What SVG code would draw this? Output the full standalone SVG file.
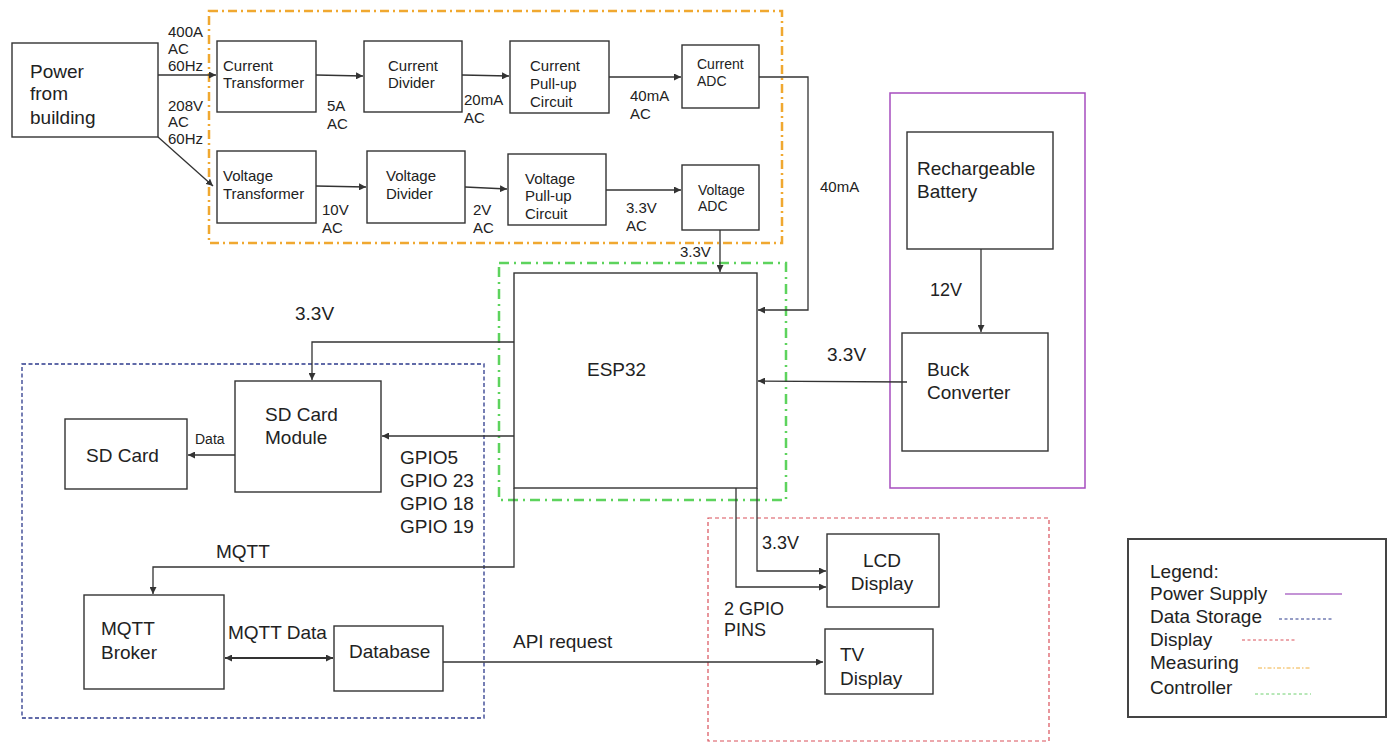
<svg xmlns="http://www.w3.org/2000/svg" width="1388" height="742" viewBox="0 0 1388 742">
<defs>
<style>
text{font-family:"Liberation Sans",Arial,sans-serif;fill:#222;}
.t19{font-size:19px;}
.t18{font-size:18px;}
.t15{font-size:15px;}
.t14{font-size:14px;}
.box{fill:#fff;stroke:#333;stroke-width:1.4;}
.wire{fill:none;stroke:#333;stroke-width:1.3;}
.grp{fill:none;}
</style>
<marker id="ah" viewBox="0 0 10 10" refX="10" refY="5" markerWidth="7" markerHeight="7" markerUnits="userSpaceOnUse" orient="auto">
<path d="M0,0 L10,5 L0,10 z" fill="#333"/>
</marker>
<marker id="ahs" viewBox="0 0 10 10" refX="0" refY="5" markerWidth="7" markerHeight="7" markerUnits="userSpaceOnUse" orient="auto">
<path d="M10,0 L0,5 L10,10 z" fill="#333"/>
</marker>
</defs>
<rect width="1388" height="742" fill="#fff"/>

<!-- group frames -->
<g id="groups">
<rect x="209" y="11" width="573" height="232" class="grp" stroke="#f0a830" stroke-width="2.5" stroke-dasharray="9 4 2 4"/>
<rect x="499" y="263" width="287" height="237" class="grp" stroke="#5dd35d" stroke-width="2.5" stroke-dasharray="10 5 2 5"/>
<rect x="22" y="364" width="462" height="354" class="grp" stroke="#2d3a8c" stroke-width="1.3" stroke-dasharray="4 2.5"/>
<rect x="708" y="518" width="341" height="223" class="grp" stroke="#d9505a" stroke-width="1.2" stroke-dasharray="4 3"/>
<rect x="890" y="93" width="195" height="395" class="grp" stroke="#a64dbf" stroke-width="1.5"/>
</g>

<g id="power-building">
<rect x="12" y="43" width="146" height="94" class="box"/>
<text class="t19" x="30" y="78">Power</text>
<text class="t19" x="30" y="100">from</text>
<text class="t19" x="30" y="124">building</text>
</g>

<g id="current-transformer">
<rect x="217" y="41" width="99" height="71" class="box"/>
<text class="t15" x="223" y="71">Current</text>
<text class="t15" x="223" y="88">Transformer</text>
</g>
<g id="current-divider">
<rect x="364" y="41" width="98" height="71" class="box"/>
<text class="t15" x="388" y="71">Current</text>
<text class="t15" x="388" y="88">Divider</text>
</g>
<g id="current-pullup">
<rect x="510" y="41" width="99" height="72" class="box"/>
<text class="t15" x="530" y="71">Current</text>
<text class="t15" x="530" y="89">Pull-up</text>
<text class="t15" x="530" y="107">Circuit</text>
</g>
<g id="current-adc">
<rect x="682" y="45" width="77" height="63" class="box"/>
<text class="t14" x="697" y="69">Current</text>
<text class="t14" x="697" y="86">ADC</text>
</g>

<g id="voltage-transformer">
<rect x="217" y="151" width="99" height="72" class="box"/>
<text class="t15" x="223" y="181">Voltage</text>
<text class="t15" x="223" y="199">Transformer</text>
</g>
<g id="voltage-divider">
<rect x="367" y="151" width="98" height="72" class="box"/>
<text class="t15" x="386" y="181">Voltage</text>
<text class="t15" x="386" y="199">Divider</text>
</g>
<g id="voltage-pullup">
<rect x="508" y="154" width="98" height="71" class="box"/>
<text class="t15" x="525" y="184">Voltage</text>
<text class="t15" x="525" y="201">Pull-up</text>
<text class="t15" x="525" y="219">Circuit</text>
</g>
<g id="voltage-adc">
<rect x="682" y="165" width="77" height="65" class="box"/>
<text class="t14" x="698" y="195">Voltage</text>
<text class="t14" x="698" y="211">ADC</text>
</g>

<g id="esp32">
<rect x="514" y="273" width="243" height="215" class="box"/>
<text class="t19" x="587" y="376">ESP32</text>
</g>

<g id="sd-card-module">
<rect x="235" y="381" width="146" height="111" class="box"/>
<text class="t19" x="265" y="421">SD Card</text>
<text class="t19" x="265" y="444">Module</text>
</g>
<g id="sd-card">
<rect x="65" y="419" width="122" height="70" class="box"/>
<text class="t19" x="86" y="462">SD Card</text>
</g>
<g id="mqtt-broker">
<rect x="84" y="595" width="140" height="94" class="box"/>
<text class="t19" x="101" y="635">MQTT</text>
<text class="t19" x="101" y="659">Broker</text>
</g>
<g id="database">
<rect x="334" y="626" width="109" height="65" class="box"/>
<text class="t19" x="349" y="658">Database</text>
</g>

<g id="lcd-display">
<rect x="827" y="534" width="112" height="73" class="box"/>
<text class="t19" x="882" y="567" text-anchor="middle">LCD</text>
<text class="t19" x="882" y="590" text-anchor="middle">Display</text>
</g>
<g id="tv-display">
<rect x="825" y="629" width="108" height="65" class="box"/>
<text class="t19" x="840" y="661">TV</text>
<text class="t19" x="840" y="685">Display</text>
</g>

<g id="battery">
<rect x="907" y="132" width="146" height="117" class="box"/>
<text class="t19" x="917" y="175">Rechargeable</text>
<text class="t19" x="917" y="198">Battery</text>
</g>
<g id="buck-converter">
<rect x="902" y="333" width="146" height="118" class="box"/>
<text class="t19" x="927" y="376">Buck</text>
<text class="t19" x="927" y="399">Converter</text>
</g>

<g id="connectors">
<line x1="158" y1="75" x2="216" y2="75" class="wire" marker-end="url(#ah)"/>
<line x1="158" y1="137" x2="213" y2="186" class="wire" marker-end="url(#ah)"/>
<line x1="316" y1="75" x2="363" y2="76" class="wire" marker-end="url(#ah)"/>
<line x1="316" y1="186" x2="366" y2="187" class="wire" marker-end="url(#ah)"/>
<line x1="462" y1="75" x2="509" y2="76" class="wire" marker-end="url(#ah)"/>
<line x1="465" y1="187" x2="507" y2="189" class="wire" marker-end="url(#ah)"/>
<line x1="609" y1="77" x2="681" y2="77" class="wire" marker-end="url(#ah)"/>
<line x1="606" y1="190" x2="681" y2="190" class="wire" marker-end="url(#ah)"/>
<line x1="720" y1="230" x2="720" y2="272" class="wire" marker-end="url(#ah)"/>
<polyline points="759,77 808,77 808,310 758,310" class="wire" marker-end="url(#ah)"/>
<line x1="907" y1="382" x2="758" y2="381" class="wire" marker-end="url(#ah)"/>
<line x1="981" y1="249" x2="981" y2="332" class="wire" marker-end="url(#ah)"/>
<polyline points="514,342 312,342 312,380" class="wire" marker-end="url(#ah)"/>
<line x1="514" y1="436" x2="382" y2="436" class="wire" marker-end="url(#ah)"/>
<line x1="235" y1="455" x2="188" y2="455" class="wire" marker-end="url(#ah)"/>
<polyline points="514,488 514,567 153,567 153,594" class="wire" marker-end="url(#ah)"/>
<line x1="225" y1="658" x2="333" y2="658" fill="none" stroke="#333" stroke-width="2" marker-start="url(#ahs)" marker-end="url(#ah)"/>
<line x1="443" y1="662" x2="823" y2="662" class="wire" marker-end="url(#ah)"/>
<polyline points="757,488 757,571 826,571" class="wire" marker-end="url(#ah)"/>
<polyline points="736,488 736,587 826,587" class="wire" marker-end="url(#ah)"/>
</g>

<g id="connector-labels">
<text class="t15" x="168" y="37">400A</text>
<text class="t15" x="168" y="54">AC</text>
<text class="t15" x="168" y="71">60Hz</text>
<text class="t15" x="168" y="111">208V</text>
<text class="t15" x="168" y="127">AC</text>
<text class="t15" x="168" y="144">60Hz</text>
<text class="t15" x="327" y="111">5A</text>
<text class="t15" x="327" y="129">AC</text>
<text class="t15" x="322" y="215">10V</text>
<text class="t15" x="322" y="233">AC</text>
<text class="t15" x="464" y="105">20mA</text>
<text class="t15" x="464" y="123">AC</text>
<text class="t15" x="473" y="215">2V</text>
<text class="t15" x="473" y="233">AC</text>
<text class="t15" x="630" y="101">40mA</text>
<text class="t15" x="630" y="119">AC</text>
<text class="t15" x="626" y="213">3.3V</text>
<text class="t15" x="626" y="231">AC</text>
<text class="t15" x="680" y="257">3.3V</text>
<text class="t15" x="820" y="192">40mA</text>
<text class="t19" x="295" y="320">3.3V</text>
<text class="t14" x="195" y="444">Data</text>
<text class="t19" x="400" y="464">GPIO5</text>
<text class="t19" x="400" y="487">GPIO 23</text>
<text class="t19" x="400" y="510">GPIO 18</text>
<text class="t19" x="400" y="533">GPIO 19</text>
<text class="t19" x="216" y="558">MQTT</text>
<text class="t19" x="228" y="639">MQTT Data</text>
<text class="t19" x="513" y="648">API request</text>
<text class="t18" x="762" y="549">3.3V</text>
<text class="t18" x="724" y="615">2 GPIO</text>
<text class="t18" x="724" y="636">PINS</text>
<text class="t18" x="930" y="296">12V</text>
<text class="t19" x="827" y="361">3.3V</text>
</g>

<g id="legend">
<rect x="1128" y="539" width="258" height="178" fill="#fff" stroke="#444" stroke-width="2"/>
<text class="t19" x="1150" y="578">Legend:</text>
<text class="t19" x="1150" y="600">Power Supply</text>
<text class="t19" x="1150" y="623">Data Storage</text>
<text class="t19" x="1150" y="646">Display</text>
<text class="t19" x="1150" y="669">Measuring</text>
<text class="t19" x="1150" y="694">Controller</text>
<line x1="1285" y1="594" x2="1342" y2="594" stroke="#b070c8" stroke-width="1.5"/>
<line x1="1279" y1="619" x2="1332" y2="619" stroke="#2d3a8c" stroke-width="1" stroke-dasharray="3 2.5"/>
<line x1="1242" y1="640" x2="1295" y2="640" stroke="#d9505a" stroke-width="1" stroke-dasharray="3 2.5"/>
<line x1="1258" y1="668" x2="1310" y2="668" stroke="#f0b040" stroke-width="1" stroke-dasharray="4 2 1.5 2"/>
<line x1="1255" y1="694" x2="1311" y2="694" stroke="#70d070" stroke-width="1" stroke-dasharray="3 2.5"/>
</g>
</svg>
